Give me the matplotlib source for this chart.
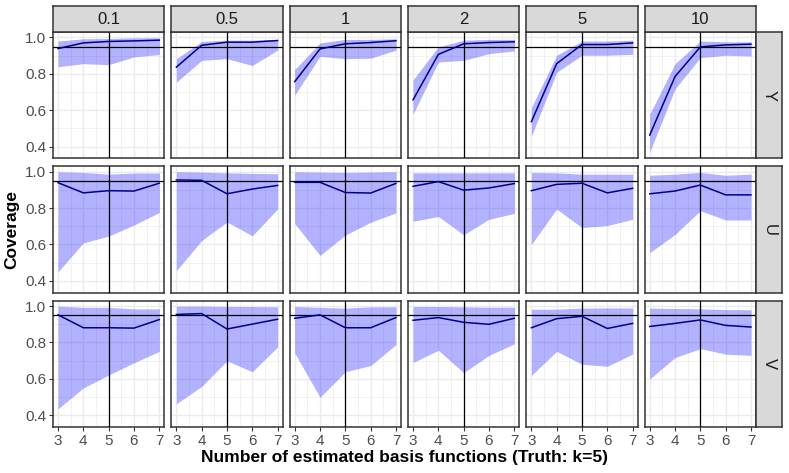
import numpy as np
import matplotlib.pyplot as plt

plt.rcParams['font.family'] = ['Liberation Sans', 'DejaVu Sans']

# facet labels
sigmas = ['0.1', '0.5', '1', '2', '5', '10']
variables = ['Y', 'U', 'V']
k = [3, 4, 5, 6, 7]

# mean coverage, one row per sigma (columns), values for k = 3..7
mean_Y = [[0.939, 0.970, 0.978, 0.981, 0.985],
          [0.837, 0.957, 0.974, 0.974, 0.983],
          [0.757, 0.937, 0.965, 0.972, 0.982],
          [0.657, 0.907, 0.965, 0.972, 0.976],
          [0.537, 0.856, 0.961, 0.961, 0.970],
          [0.463, 0.785, 0.948, 0.959, 0.963]]
lo_Y = [[0.839, 0.856, 0.850, 0.893, 0.906],
        [0.754, 0.874, 0.883, 0.846, 0.930],
        [0.683, 0.896, 0.883, 0.886, 0.930],
        [0.578, 0.865, 0.874, 0.911, 0.926],
        [0.457, 0.809, 0.902, 0.902, 0.907],
        [0.370, 0.717, 0.889, 0.902, 0.898]]
hi_Y = [[0.980, 0.993, 0.994, 0.998, 0.998],
        [0.883, 0.978, 0.985, 0.985, 0.990],
        [0.824, 0.970, 0.989, 0.989, 0.993],
        [0.767, 0.948, 0.985, 0.989, 0.989],
        [0.615, 0.902, 0.980, 0.980, 0.985],
        [0.578, 0.856, 0.980, 0.976, 0.976]]

mean_U = [[0.940, 0.884, 0.896, 0.894, 0.937],
          [0.955, 0.953, 0.879, 0.905, 0.925],
          [0.942, 0.942, 0.886, 0.883, 0.936],
          [0.920, 0.946, 0.899, 0.911, 0.935],
          [0.896, 0.931, 0.937, 0.884, 0.909],
          [0.879, 0.894, 0.927, 0.873, 0.873]]
lo_U = [[0.450, 0.609, 0.646, 0.707, 0.776],
        [0.456, 0.622, 0.724, 0.648, 0.795],
        [0.715, 0.540, 0.652, 0.722, 0.774],
        [0.728, 0.754, 0.653, 0.739, 0.771],
        [0.600, 0.795, 0.693, 0.704, 0.739],
        [0.555, 0.655, 0.786, 0.735, 0.735]]
hi_U = [[1.000, 0.996, 0.987, 0.993, 0.993],
        [1.000, 0.998, 0.994, 0.991, 0.989],
        [1.000, 0.998, 0.996, 0.998, 1.000],
        [0.994, 0.994, 0.994, 0.994, 0.994],
        [0.996, 0.994, 0.987, 0.987, 0.987],
        [0.981, 0.987, 0.996, 0.981, 0.987]]

mean_V = [[0.952, 0.881, 0.881, 0.879, 0.926],
          [0.954, 0.959, 0.874, 0.901, 0.928],
          [0.933, 0.952, 0.881, 0.881, 0.937],
          [0.922, 0.937, 0.911, 0.900, 0.933],
          [0.881, 0.931, 0.944, 0.877, 0.905],
          [0.888, 0.905, 0.924, 0.894, 0.885]]
lo_V = [[0.435, 0.550, 0.621, 0.688, 0.751],
        [0.463, 0.558, 0.699, 0.639, 0.775],
        [0.742, 0.498, 0.639, 0.673, 0.788],
        [0.690, 0.757, 0.634, 0.729, 0.792],
        [0.619, 0.751, 0.680, 0.669, 0.736],
        [0.599, 0.717, 0.766, 0.736, 0.729]]
hi_V = [[1.000, 0.993, 0.993, 0.985, 0.985],
        [1.000, 1.000, 0.998, 0.998, 0.996],
        [0.998, 0.993, 0.989, 0.996, 0.996],
        [0.998, 0.998, 0.996, 0.994, 0.994],
        [0.983, 0.983, 0.989, 0.990, 0.990],
        [0.989, 0.987, 0.985, 0.981, 0.980]]

means = {'Y': mean_Y, 'U': mean_U, 'V': mean_V}
lows = {'Y': lo_Y, 'U': lo_U, 'V': lo_V}
highs = {'Y': hi_Y, 'U': hi_U, 'V': hi_V}

W, H = 789, 473
fig = plt.figure(figsize=(W / 100, H / 100), dpi=100)

left, right, top, bottom = 53, 756, 32, 427
gap_x, gap_y = 7, 8
pw = (right - left - 5 * gap_x) / 6
ph = (bottom - top - 2 * gap_y) / 3
strip = 26
border = '#333333'


def box(x, y, w, h):
    return [x / W, 1 - (y + h) / H, w / W, h / H]


def style_strip(sa):
    sa.set_facecolor('#D9D9D9')
    sa.set_xticks([])
    sa.set_yticks([])
    for sp in sa.spines.values():
        sp.set_color(border)
        sp.set_linewidth(1.1)


for r, var in enumerate(variables):
    y0 = top + r * (ph + gap_y)
    for c, s in enumerate(sigmas):
        x0 = left + c * (pw + gap_x)
        ax = fig.add_axes(box(x0, y0, pw, ph))
        ax.set_xlim(2.8, 7.2)
        ax.set_ylim(0.335, 1.03)
        ax.set_xticks(k)
        ax.set_xticks([3.5, 4.5, 5.5, 6.5], minor=True)
        ax.set_yticks([0.4, 0.6, 0.8, 1.0])
        ax.set_yticks([0.5, 0.7, 0.9], minor=True)
        ax.grid(True, which='major', color='#EBEBEB', lw=1.0)
        ax.grid(True, which='minor', color='#EBEBEB', lw=0.5)
        ax.set_axisbelow(True)
        for sp in ax.spines.values():
            sp.set_color(border)
            sp.set_linewidth(1.1)
        ax.tick_params(which='minor', length=0)
        ax.tick_params(which='major', length=3, color=border, width=0.8,
                       labelsize=11, labelcolor='#4D4D4D', pad=2)
        if c > 0:
            ax.set_yticklabels([])
            ax.tick_params(axis='y', length=0)
        else:
            ax.set_yticklabels(['0.4', '0.6', '0.8', '1.0'])
        if r < 2:
            ax.set_xticklabels([])
            ax.tick_params(axis='x', length=0)

        ax.fill_between(k, lows[var][c], highs[var][c], color='blue',
                        alpha=0.3, lw=0, zorder=2)
        ax.axhline(0.95, color='black', lw=0.9, zorder=3)
        ax.axvline(5, color='black', lw=0.9, zorder=3)
        ax.plot(k, means[var][c], color='#00008B', lw=1.1, zorder=4)

        if r == 0:
            sa = fig.add_axes(box(x0, top - strip, pw, strip))
            style_strip(sa)
            sa.text(0.5, 0.47, s, ha='center', va='center', fontsize=12,
                    color='#1A1A1A', transform=sa.transAxes)

    sa = fig.add_axes(box(right, y0, strip, ph))
    style_strip(sa)
    sa.text(0.5, 0.5, var, ha='center', va='center', fontsize=12,
            color='#1A1A1A', rotation=-90, transform=sa.transAxes)

fig.text(12 / W, 1 - (top + bottom) / 2 / H, 'Coverage', rotation=90,
         ha='center', va='center', fontsize=12.5, fontweight='bold')
fig.text((left + right) / 2 / W, 1 - 457 / H,
         'Number of estimated basis functions (Truth: k=5)',
         ha='center', va='center', fontsize=12.5, fontweight='bold')

fig.savefig('out.png', dpi=100)
